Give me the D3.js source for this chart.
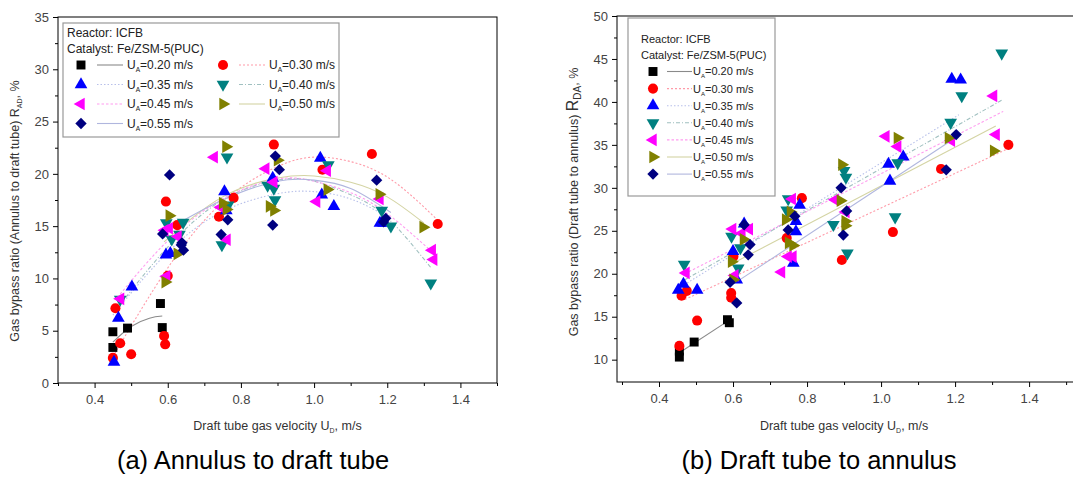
<!DOCTYPE html>
<html>
<head>
<meta charset="utf-8">
<script src="https://cdn.jsdelivr.net/npm/d3@7"></script>
<style>
  body { margin: 0; background: #fff; }
  svg { display: block; font-family: "Liberation Sans", Arial, sans-serif; }
</style>
</head>
<body>
<div id="chart-container"></div>
<script>
// Annulus gas velocities (legend entries)
const velocities = ["0.20", "0.30", "0.35", "0.40", "0.45", "0.50", "0.55"];

// Axis ticks
const xTicks = [0.4, 0.6, 0.8, 1.0, 1.2, 1.4];
const xMinorTicks = [0.3, 0.5, 0.7, 0.9, 1.1, 1.3, 1.5];
const yTicksA = [0, 5, 10, 15, 20, 25, 30, 35];
const yMinorTicksA = [2.5, 7.5, 12.5, 17.5, 22.5, 27.5, 32.5];
const yTicksB = [10, 15, 20, 25, 30, 35, 40, 45, 50];
const yMinorTicksB = [12.5, 17.5, 22.5, 27.5, 32.5, 37.5, 42.5, 47.5];

// (a) Annulus to draft tube: [U_D, R_AD]
const a020 = [[0.45, 4.9], [0.45, 3.4], [0.49, 5.25], [0.58, 7.6], [0.585, 5.3]];
const a030 = [[0.45, 2.4], [0.457, 7.15], [0.47, 3.8], [0.50, 2.75], [0.59, 4.5], [0.593, 3.7],
              [0.60, 10.25], [0.595, 17.35], [0.626, 15.1], [0.74, 15.9], [0.78, 17.7],
              [0.89, 22.8], [1.023, 20.4], [1.158, 21.9], [1.338, 15.2]];
const a035 = [[0.453, 2.0], [0.465, 6.2], [0.502, 9.2], [0.595, 12.25], [0.607, 12.4],
              [0.755, 18.3], [0.76, 16.5], [0.887, 19.6], [1.017, 21.5], [1.021, 18.0],
              [1.054, 16.9], [1.18, 15.3], [1.19, 15.3]];
const a040 = [[0.47, 8.0], [0.596, 15.3], [0.611, 13.75], [0.632, 14.2], [0.642, 15.35],
              [0.748, 13.2], [0.762, 21.6], [0.765, 17.0], [0.873, 18.9], [0.89, 18.6],
              [0.893, 17.5], [1.039, 20.85], [1.185, 16.5], [1.21, 15.0], [1.319, 9.55]];
const a045 = [[0.471, 8.05], [0.592, 14.6], [0.604, 14.8], [0.597, 10.2], [0.628, 14.0],
              [0.727, 21.6], [0.745, 16.8], [0.762, 13.7], [0.868, 20.5], [0.89, 19.2],
              [1.007, 17.35], [1.036, 20.3], [1.18, 17.6], [1.323, 12.7], [1.327, 11.8]];
const a050 = [[0.593, 9.65], [0.604, 16.0], [0.626, 12.35], [0.759, 22.6], [0.75, 17.2],
              [0.76, 16.6], [0.878, 16.9], [0.89, 16.5], [0.9, 21.3], [1.036, 18.5],
              [1.178, 18.05], [1.298, 14.9]];
const a055 = [[0.586, 14.26], [0.605, 19.9], [0.637, 13.2], [0.643, 12.7], [0.639, 13.4],
              [0.746, 14.2], [0.764, 15.6], [0.894, 21.7], [0.905, 20.4], [0.887, 15.1],
              [1.171, 19.4], [1.196, 15.75], [1.19, 15.4]];

// (a) fitted curves
const fitA020 = [[0.45, 3.9], [0.5, 5.4], [0.55, 6.2], [0.585, 6.4]];
const fitA030 = [[0.45, 2.5], [0.6, 11], [0.75, 17.3], [0.9, 20.7], [1.02, 21.6], [1.15, 20.6], [1.25, 18.4], [1.34, 15.5]];
const fitA035 = [[0.45, 6.5], [0.6, 12.5], [0.75, 16.4], [0.9, 18.1], [1.0, 18.3], [1.1, 17.6], [1.2, 15.9]];
const fitA040 = [[0.47, 7.5], [0.6, 13], [0.75, 17.5], [0.9, 19.4], [1.0, 19.3], [1.1, 18], [1.2, 15.8], [1.32, 11.0]];
const fitA045 = [[0.47, 8.5], [0.6, 13.6], [0.75, 17.6], [0.9, 19.5], [1.0, 19.3], [1.1, 18.2], [1.2, 16.2], [1.33, 12.3]];
const fitA050 = [[0.59, 13.5], [0.75, 17.8], [0.9, 19.6], [1.0, 19.8], [1.1, 19.2], [1.2, 17.8], [1.3, 15.3]];
const fitA055 = [[0.59, 14.5], [0.75, 17.5], [0.9, 19.3], [1.0, 19.4], [1.1, 18.6], [1.21, 16.3]];

// (b) Draft tube to annulus: [U_D, R_DA]
const b020 = [[0.455, 11.0], [0.455, 10.3], [0.495, 12.05], [0.585, 14.65], [0.59, 14.3]];
const b030 = [[0.455, 11.6], [0.461, 17.45], [0.475, 18.0], [0.503, 14.55], [0.595, 17.75],
              [0.595, 17.2], [0.601, 22.0], [0.745, 24.15], [0.786, 28.8], [0.894, 21.6],
              [1.032, 24.85], [1.162, 32.2], [1.344, 35.0]];
const b035 = [[0.452, 18.1], [0.466, 18.8], [0.503, 18.1], [0.6, 22.6], [0.61, 19.3],
              [0.63, 25.8], [0.78, 28.0], [0.77, 26.1], [0.763, 21.25], [0.77, 24.9],
              [1.02, 32.75], [1.024, 30.8], [1.06, 33.6], [1.191, 42.67], [1.215, 42.56]];
const b040 = [[0.468, 21.1], [0.596, 24.35], [0.614, 20.65], [0.62, 23.0], [0.749, 28.7],
              [0.745, 27.4], [0.871, 25.7], [0.9, 32.0], [0.905, 31.2], [0.909, 22.4],
              [1.038, 26.6], [1.045, 32.9], [1.188, 37.6], [1.218, 40.7], [1.326, 45.66]];
const b045 = [[0.473, 20.1], [0.599, 25.2], [0.624, 24.7], [0.644, 25.2], [0.605, 19.8],
              [0.76, 28.7], [0.749, 22.0], [0.762, 22.0], [0.731, 20.2], [0.876, 28.6],
              [0.905, 27.2], [1.013, 36.0], [1.045, 34.8], [1.19, 35.5], [1.304, 40.7], [1.311, 36.2]];
const b050 = [[0.596, 21.4], [0.6, 19.3], [0.628, 24.0], [0.755, 27.2], [0.742, 26.3],
              [0.75, 23.6], [0.762, 23.3], [0.894, 32.7], [0.89, 28.5], [0.903, 26.1],
              [0.903, 25.6], [1.044, 35.8], [1.182, 35.8], [1.304, 34.3]];
const b055 = [[0.592, 19.0], [0.61, 16.6], [0.63, 25.7], [0.646, 23.4], [0.641, 22.2],
              [0.767, 26.7], [0.749, 25.1], [0.892, 30.0], [0.907, 27.3], [0.898, 24.5],
              [1.176, 32.1], [1.203, 36.2]];

// (b) fitted lines
const fitB020 = [[0.455, 10.8], [0.59, 14.6]];
const fitB030 = [[0.47, 17.0], [1.34, 34.5]];
const fitB035 = [[0.46, 18.5], [1.21, 38.5]];
const fitB040 = [[0.47, 19.3], [1.33, 40.3]];
const fitB045 = [[0.47, 20.0], [1.33, 38.9]];
const fitB050 = [[0.59, 21.0], [1.31, 37.2]];
const fitB055 = [[0.59, 18.5], [1.2, 35.8]];

// marker / line styles per series
const markerColors = ["#000000", "#ff0000", "#0000ff", "#008080", "#ff00ff", "#808000", "#000080"];
const fitColors = ["#8a8a8a", "#ff9aa8", "#b8c0ea", "#a0c0c0", "#ff9cf0", "#d4d4a4", "#b0b6de"];
const fitDash = [null, "2,2", "1.5,2", "4,2,1,2", "2.5,2", null, null];
const shapes = ["square", "circle", "up", "down", "left", "right", "diamond"];

const svg = d3.select("#chart-container")
    .append("svg")
    .attr("width", 1073)
    .attr("height", 477);

function marker(shape) {
    if (shape === "square") return d3.symbol(d3.symbolSquare, 80)();
    if (shape === "circle") return d3.symbol(d3.symbolCircle, 80)();
    if (shape === "diamond") return d3.symbol(d3.symbolSquare, 64)();
    return d3.symbol(d3.symbolTriangle, 70)();
}
function rotation(shape) {
    return { down: 180, left: -90, right: 90, diamond: 45 }[shape] || 0;
}

// "U_A=0.20 m/s" style label
function uLabel(sel, v, size) {
    sel.append("tspan").text("U");
    sel.append("tspan").attr("dy", 3).attr("font-size", size * 0.55).text("A");
    sel.append("tspan").attr("dy", -3).text("=" + v + " m/s");
}

function drawPanel(p) {
    const x = d3.scaleLinear().domain(p.xDomain).range([p.left, p.right]);
    const y = d3.scaleLinear().domain(p.yDomain).range([p.bottom, p.top]);
    const g = svg.append("g");

    const line = d3.line()
        .x(d => x(d[0]))
        .y(d => y(d[1]))
        .curve(p.curve);

    // fitted curves
    p.fits.forEach((f, i) => {
        g.append("path")
            .datum(f)
            .attr("fill", "none")
            .attr("stroke", fitColors[i])
            .attr("stroke-width", 1.1)
            .attr("stroke-dasharray", fitDash[i])
            .attr("d", line);
    });

    // data points
    p.series.forEach((s, i) => {
        g.selectAll(null)
            .data(s)
            .enter()
            .append("path")
            .attr("d", marker(shapes[i]))
            .attr("fill", markerColors[i])
            .attr("transform", d => `translate(${x(d[0])},${y(d[1])}) rotate(${rotation(shapes[i])})`);
    });

    // frame
    g.append("rect")
        .attr("x", p.left)
        .attr("y", p.top)
        .attr("width", p.right - p.left)
        .attr("height", p.bottom - p.top)
        .attr("fill", "none")
        .attr("stroke", "#000")
        .attr("stroke-width", 1);

    // axes
    const xAxis = g.append("g")
        .attr("transform", `translate(0,${p.bottom})`)
        .call(d3.axisBottom(x).tickValues(xTicks).tickFormat(d3.format(".1f")).tickSize(5).tickPadding(7).tickSizeOuter(0));
    const xMinor = g.append("g")
        .attr("transform", `translate(0,${p.bottom})`)
        .call(d3.axisBottom(x).tickValues(xMinorTicks.filter(t => x(t) <= p.right)).tickFormat("").tickSize(3).tickSizeOuter(0));
    const yAxis = g.append("g")
        .attr("transform", `translate(${p.left},0)`)
        .call(d3.axisLeft(y).tickValues(p.yTicks).tickFormat(d3.format("d")).tickSize(5).tickPadding(4).tickSizeOuter(0));
    const yMinor = g.append("g")
        .attr("transform", `translate(${p.left},0)`)
        .call(d3.axisLeft(y).tickValues(p.yMinor).tickFormat("").tickSize(3).tickSizeOuter(0));

    [xAxis, xMinor, yAxis, yMinor].forEach(a => {
        a.select(".domain").remove();
        a.selectAll("line").attr("stroke", "#000");
        a.selectAll("text").attr("font-size", 13).attr("fill", "#444")
            .attr("font-family", "Liberation Sans, Arial, sans-serif");
    });

    // x title
    const xt = g.append("text")
        .attr("x", (x(0.3) + x(1.5)) / 2)
        .attr("y", 430)
        .attr("text-anchor", "middle")
        .attr("font-size", 12.5)
        .attr("fill", "#333");
    xt.append("tspan").text("Draft tube gas velocity U");
    xt.append("tspan").attr("dy", 3).attr("font-size", 7).text("D");
    xt.append("tspan").attr("dy", -3).text(", m/s");

    // y title
    const yt = g.append("text")
        .attr("transform", `translate(${p.yTitleX},${p.yTitleY}) rotate(-90)`)
        .attr("text-anchor", "middle")
        .attr("font-size", 12.5)
        .attr("fill", "#333");
    yt.append("tspan").text(p.yTitle);
    yt.append("tspan").attr("font-size", p.rSize).text("R");
    yt.append("tspan").attr("dy", 3).attr("font-size", p.subSize).text(p.ySub);
    yt.append("tspan").attr("dy", -3).text(", %");

    // caption
    g.append("text")
        .attr("x", p.captionX)
        .attr("y", 469)
        .attr("text-anchor", "middle")
        .attr("font-size", 25.5)
        .attr("fill", "#000")
        .text(p.caption);

    // legend
    const L = p.legend;
    const lg = g.append("g");
    lg.append("rect")
        .attr("x", L.x).attr("y", L.y)
        .attr("width", L.w).attr("height", L.h)
        .attr("fill", "#fff")
        .attr("stroke", "#999")
        .attr("stroke-width", 1.2);
    lg.append("text").attr("x", L.textX).attr("y", L.line1)
        .attr("font-size", L.fs).attr("fill", "#222").text("Reactor: ICFB");
    lg.append("text").attr("x", L.textX).attr("y", L.line2)
        .attr("font-size", L.fs).attr("fill", "#222").text("Catalyst: Fe/ZSM-5(PUC)");

    velocities.forEach((v, i) => {
        const col = L.cols === 2 ? i % 2 : 0;
        const row = L.cols === 2 ? Math.floor(i / 2) : i;
        const cx = L.colX[col];
        const cy = L.rowY0 + row * L.rowH;
        lg.append("path")
            .attr("d", marker(shapes[i]))
            .attr("fill", markerColors[i])
            .attr("transform", `translate(${cx},${cy}) rotate(${rotation(shapes[i])})`);
        lg.append("line")
            .attr("x1", cx + L.lineFrom).attr("x2", cx + L.lineTo)
            .attr("y1", cy).attr("y2", cy)
            .attr("stroke", fitColors[i])
            .attr("stroke-width", 1.1)
            .attr("stroke-dasharray", fitDash[i]);
        const t = lg.append("text")
            .attr("x", cx + L.textFrom)
            .attr("y", cy + L.fs * 0.36)
            .attr("font-size", L.fs)
            .attr("fill", "#222");
        uLabel(t, v, L.fs);
    });
}

// Panel (a)
drawPanel({
    left: 58, right: 497, top: 17, bottom: 383,
    xDomain: [0.3, 1.5], yDomain: [0, 35],
    yTicks: yTicksA, yMinor: yMinorTicksA,
    series: [a020, a030, a035, a040, a045, a050, a055],
    fits: [fitA020, fitA030, fitA035, fitA040, fitA045, fitA050, fitA055],
    curve: d3.curveNatural,
    yTitle: "Gas bypass ratio (Annulus to draft tube) ",
    ySub: "AD", rSize: 12.5, subSize: 7,
    yTitleX: 19, yTitleY: 211,
    caption: "(a) Annulus to draft tube", captionX: 253,
    legend: {
        x: 63, y: 23, w: 276, h: 114, fs: 12, cols: 2,
        textX: 67, line1: 37, line2: 53,
        colX: [81, 223], rowY0: 65, rowH: 19.5,
        lineFrom: 16, lineTo: 42, textFrom: 46
    }
});

// Panel (b)
drawPanel({
    left: 617, right: 1075, top: 16, bottom: 382,
    xDomain: [0.2865, 1.524], yDomain: [7.4, 50],
    yTicks: yTicksB, yMinor: yMinorTicksB,
    series: [b020, b030, b035, b040, b045, b050, b055],
    fits: [fitB020, fitB030, fitB035, fitB040, fitB045, fitB050, fitB055],
    curve: d3.curveLinear,
    yTitle: "Gas bypass ratio (Draft tube to annulus) ",
    ySub: "DA", rSize: 16, subSize: 10,
    yTitleX: 578, yTitleY: 202,
    caption: "(b) Draft tube to annulus", captionX: 819,
    legend: {
        x: 628, y: 18, w: 147, h: 178, fs: 11, cols: 1,
        textX: 641, line1: 43, line2: 59,
        colX: [653], rowY0: 71.5, rowH: 17.1,
        lineFrom: 14, lineTo: 39, textFrom: 40
    }
});
</script>
</body>
</html>
